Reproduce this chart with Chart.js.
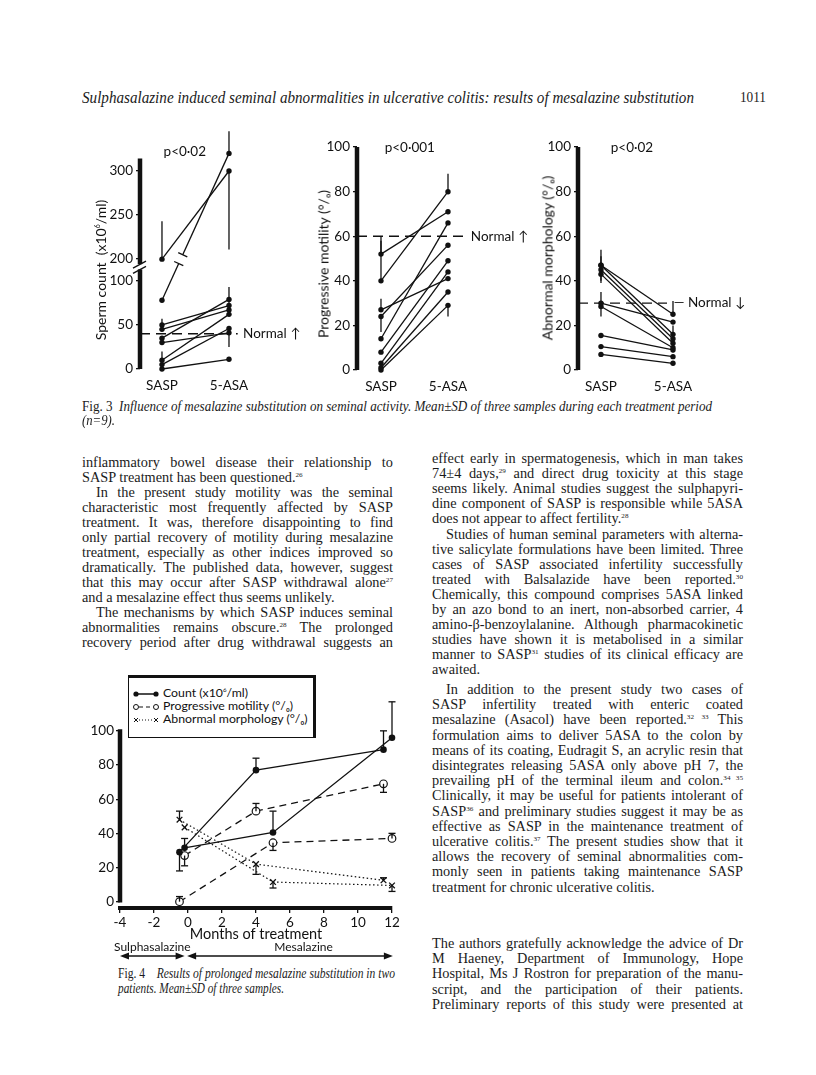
<!DOCTYPE html>
<html>
<head>
<meta charset="utf-8">
<script src="https://cdn.jsdelivr.net/npm/chart.js@4.4.1/dist/chart.umd.min.js"></script>
<style>
  body { margin: 0; background: #fff; width: 816px; height: 1075px; position: relative; overflow: hidden; color: #1b1b1b; }
  canvas { position: absolute; }
  .t { position: absolute; white-space: nowrap; font-family: 'Liberation Serif', serif; font-size: 14.3px; line-height: 15px; }
  .t span { display: inline-block; transform-origin: 0 50%; }
  sup { font-size: .5em; vertical-align: .75em; line-height: 0; }
  .yt { position: absolute; transform: translate(-50%, -50%) rotate(-90deg); font: 14px Lato, sans-serif; white-space: nowrap; color: #111; }
  #leg { position: absolute; left: 128px; top: 675px; width: 184px; height: 59px; border: 1.5px solid #111; border-top-width: 3px; border-right-width: 3px; font: 12.3px Lato, sans-serif; color: #111; background: #fff; }
  #leg div { position: absolute; left: 3px; height: 13px; line-height: 13px; white-space: nowrap; }
  #leg svg { vertical-align: middle; margin-right: 3px; }
</style>
</head>
<body>

<canvas id="c1"></canvas>
<canvas id="c2"></canvas>
<canvas id="c3"></canvas>
<canvas id="c4"></canvas>

<div class="yt" style="left:100px;top:270px">Sperm count &nbsp;(x10<sup>6</sup>/ml)</div>
<div class="yt" style="left:323px;top:264px">Progressive motility (°/ₒ)</div>
<div class="yt" style="left:547px;top:258px">Abnormal morphology (°/ₒ)</div>

<div id="leg">
  <div style="top:8px"><svg width="28" height="8"><line x1="4" y1="4" x2="24" y2="4" stroke="#111" stroke-width="1.5"/><circle cx="4" cy="4" r="2.6" fill="#111"/><circle cx="24" cy="4" r="2.6" fill="#111"/></svg>Count (x10<sup>6</sup>/ml)</div>
  <div style="top:21px"><svg width="28" height="8"><line x1="7" y1="4" x2="21" y2="4" stroke="#111" stroke-width="1.2" stroke-dasharray="4 3"/><circle cx="4" cy="4" r="2.5" fill="#fff" stroke="#111"/><circle cx="24" cy="4" r="2.5" fill="#fff" stroke="#111"/></svg>Progressive motility (°/ₒ)</div>
  <div style="top:34px"><svg width="28" height="8"><line x1="7" y1="4" x2="21" y2="4" stroke="#111" stroke-width="1.2" stroke-dasharray="1 2"/><path d="M2 2l4 4M6 2l-4 4M22 2l4 4M26 2l-4 4" stroke="#111" stroke-width="1"/></svg>Abnormal morphology (°/ₒ)</div>
</div>

<script>
// Fig 3: mean of each patient on SASP and after switching to 5-ASA (n=9)
const groups = ['SASP', '5-ASA'];

const countTicks = [0, 50, 100, 200, 250, 300];
const countSasp = [200, 78, 50, 45, 35, 30, 10, 5, 0];
const countAsa = [300, 320, 72, 67, 79, 41, 62, 46, 11];
const countSaspSd = [243, null, 57, null, 28, null, 20, null, null];
const countAsaSd = [211, 345, null, 93, null, null, null, 25, null];
const countNormal = 40;

const pctTicks = [0, 20, 40, 60, 80, 100];
const motSasp = [52, 40, 27, 24, 14, 8, 3, 1, 0];
const motAsa = [71, 80, 41, 56, 66, 49, 44, 35, 29];
const motSaspSd = [60, 58, 32, 17, null, null, null, null, null];
const motAsaSd = [null, 88, null, null, null, null, null, null, 24];
const motNormal = 60;

const morSasp = [47, 47, 45, 43, 30, 28.5, 15.5, 10.5, 7];
const morAsa = [25, 16, 14, 12, 21.5, 10, 9, 6, 3];
const morSaspSd = [54, 51, 40, 39, 35, 24, null, null, null];
const morAsaSd = [31, null, 20, 8, null, null, null, null, null];
const morNormal = 30;

// Fig 4: two patients followed for a year
const monthTicks = [-4, -2, 0, 2, 4, 6, 8, 10, 12];
const cntAx = [-0.5, 4, 11.5], cntA = [29, 77, 89], cntASd = [18, 84, 100];
const cntBx = [-0.2, 5, 12], cntB = [31.5, 40.5, 96], cntBSd = [37, 53, 117];
const motAx = [-0.2, 4, 11.5], motA = [27, 53, 69], motASd = [21, 57.5, 64];
const motBx = [-0.5, 5, 12], motB = [0, 34.5, 37], motBSd = [3, 30, 40];
const morAx = [-0.5, 4, 11.5], morA = [48, 22, 12.5], morASd = [53, 16, 14];
const morBx = [-0.2, 5, 12], morB = [43.5, 11.5, 9.5], morBSd = [null, 8, 6];

const ink = '#111';
Chart.defaults.font.family = 'Lato, sans-serif';
Chart.defaults.font.size = 13.5;
Chart.defaults.color = ink;

// error bars, thick axes, notes, breaks and arrows
const extras = {
  id: 'extras',
  afterDatasetsDraw(chart, args, o) {
    const ctx = chart.ctx, X = v => chart.scales.x.getPixelForValue(v), Y = v => chart.scales.y.getPixelForValue(v);
    ctx.save();
    ctx.strokeStyle = ink; ctx.fillStyle = ink;
    (o.bars || []).forEach(b => {
      ctx.lineWidth = 1.3;
      ctx.beginPath(); ctx.moveTo(X(b[0]), Y(b[1])); ctx.lineTo(X(b[0]), Y(b[2])); ctx.stroke();
      if (o.cap) { ctx.beginPath(); ctx.moveTo(X(b[0]) - o.cap, Y(b[2])); ctx.lineTo(X(b[0]) + o.cap, Y(b[2])); ctx.stroke(); }
    });
    (o.axes || []).forEach(a => {
      ctx.lineWidth = 4.5;
      ctx.beginPath(); ctx.moveTo(X(a[0]), Y(a[1])); ctx.lineTo(X(a[0]), Y(a[2])); ctx.stroke();
    });
    if (o.axisBreak) {
      const x = X(o.axisBreak[0]);
      const y1 = Y(o.axisBreak[1]), y2 = Y(o.axisBreak[2]);
      ctx.fillStyle = '#fff'; ctx.fillRect(x - 4, Math.min(y1, y2), 8, Math.abs(y1 - y2));
      ctx.lineWidth = 1.3;
      [y1, y2].forEach(y => { ctx.beginPath(); ctx.moveTo(x - 7, y + 4); ctx.lineTo(x + 6, y - 3); ctx.stroke(); });
      ctx.fillStyle = ink;
    }
    if (o.lineBreak) {
      const pts = chart.getDatasetMeta(o.lineBreak.i).data;
      const ax = pts[0].x, ay = pts[0].y, bx = pts[1].x, by = pts[1].y;
      const len = Math.hypot(bx - ax, by - ay), nx = -(by - ay) / len, ny = (bx - ax) / len;
      const p = t => [ax + (bx - ax) * t, ay + (by - ay) * t];
      const [t1, t2] = o.lineBreak.t;
      ctx.strokeStyle = '#fff'; ctx.lineWidth = 4;
      ctx.beginPath(); ctx.moveTo(...p(t1)); ctx.lineTo(...p(t2)); ctx.stroke();
      ctx.strokeStyle = ink; ctx.lineWidth = 1.3;
      [t1, t2].forEach(t => { const [px, py] = p(t); ctx.beginPath(); ctx.moveTo(px - nx * 5, py - ny * 5); ctx.lineTo(px + nx * 5, py + ny * 5); ctx.stroke(); });
    }
    (o.notes || []).forEach(n => {
      ctx.font = n.font || '13.5px Lato, sans-serif';
      ctx.textAlign = n.align || 'left'; ctx.textBaseline = 'middle';
      ctx.fillText(n.text, X(n.x), Y(n.y));
    });
    (o.arrows || []).forEach(a => {
      const y = chart.chartArea.bottom + a.dy, x1 = X(a.from), x2 = X(a.to);
      ctx.lineWidth = 1.4;
      ctx.beginPath(); ctx.moveTo(x1 + 4, y); ctx.lineTo(x2 - 4, y); ctx.stroke();
      ctx.beginPath(); ctx.moveTo(x1, y); ctx.lineTo(x1 + 9, y - 3.5); ctx.lineTo(x1 + 9, y + 3.5); ctx.fill();
      ctx.beginPath(); ctx.moveTo(x2, y); ctx.lineTo(x2 - 9, y - 3.5); ctx.lineTo(x2 - 9, y + 3.5); ctx.fill();
      ctx.font = '12px Lato, sans-serif'; ctx.textAlign = 'center'; ctx.textBaseline = 'middle';
      ctx.fillText(a.label, X(a.lx), y - 9);
    });
    ctx.restore();
  }
};

function place(el, l, t, w, h) {
  el.width = w; el.height = h;
  el.style.left = l + 'px'; el.style.top = t + 'px';
  el.style.width = w + 'px'; el.style.height = h + 'px';
}

function pairPanel(id, box, o) {
  const el = document.getElementById(id);
  place(el, box.l, box.t, box.w, box.h);
  const tf = o.tf || (v => v);
  const ds = o.sasp.map((v, i) => ({
    data: [{x: 0, y: tf(v)}, {x: 1, y: tf(o.asa[i])}],
    borderColor: ink, borderWidth: 1.3, pointRadius: 2.7, pointBackgroundColor: ink,
    pointBorderWidth: 0, clip: false
  }));
  ds.push({
    data: [{x: o.xMin, y: tf(o.normal)}, {x: o.normalEnd, y: tf(o.normal)}],
    borderColor: ink, borderWidth: 1.3, borderDash: [10, 6], pointRadius: 0, clip: false
  });
  const bars = [];
  o.sasp.forEach((v, i) => {
    if (o.saspSd[i] != null) bars.push([0, tf(v), tf(o.saspSd[i])]);
    if (o.asaSd[i] != null) bars.push([1, tf(o.asa[i]), tf(o.asaSd[i])]);
  });
  return new Chart(el, {
    type: 'line',
    data: {datasets: ds},
    options: {
      responsive: false, animation: false,
      layout: {padding: {top: box.pt, right: box.pr, left: 0, bottom: 0}},
      plugins: {
        legend: {display: false}, tooltip: {enabled: false},
        extras: {bars: bars, axes: [[o.xMin, 0, o.axisTop]], notes: o.notes, axisBreak: o.axisBreak, lineBreak: o.lineBreak}
      },
      scales: {
        x: {
          type: 'linear', min: o.xMin, max: o.xMax,
          afterBuildTicks: s => { s.ticks = [{value: 0}, {value: 1}]; },
          afterFit: s => { s.height = 28; },
          ticks: {callback: v => groups[v], padding: 1, maxRotation: 0},
          grid: {display: false}, border: {display: false}
        },
        y: {
          min: o.yMin, max: o.yMax,
          afterBuildTicks: s => { s.ticks = o.ticks.map(v => ({value: tf(v)})); },
          afterFit: s => { s.width = 55; },
          ticks: {callback: o.label || (v => v), padding: 3},
          grid: {drawOnChartArea: false, tickLength: 4, color: ink, lineWidth: 1.3},
          border: {display: false}
        }
      }
    },
    plugins: [extras]
  });
}

// broken sperm-count axis: 100 -> 200 squeezed into a short gap
const brk = 124.7;
const countF = v => v <= 100 ? v : v - 200 + brk;

pairPanel('c1', {l: 85, t: 120, w: 215, h: 277, pt: 6, pr: 30}, {
  sasp: countSasp, asa: countAsa, saspSd: countSaspSd, asaSd: countAsaSd,
  normal: countNormal, normalEnd: 1.13, tf: countF,
  ticks: countTicks, label: v => v > 100 ? Math.round(v + 200 - brk) : v,
  xMin: -0.328, xMax: 1.612, yMin: 0, yMax: 270, axisTop: 239,
  axisBreak: [-0.328, 113, 119], lineBreak: {i: 1, t: [0.25, 0.31]},
  notes: [{text: 'p<0·02', x: 0.34, y: 246.7, align: 'center'}, {text: 'Normal ↑', x: 1.21, y: countNormal}]
});

pairPanel('c2', {l: 302, t: 136, w: 225, h: 262, pt: 10, pr: 40}, {
  sasp: motSasp, asa: motAsa, saspSd: motSaspSd, asaSd: motAsaSd,
  normal: motNormal, normalEnd: 1.28, ticks: pctTicks,
  xMin: -0.358, xMax: 1.582, yMin: 0, yMax: 100, axisTop: 100,
  notes: [{text: 'p<0·001', x: 0.43, y: 99.6, align: 'center'}, {text: 'Normal ↑', x: 1.34, y: motNormal}]
});

pairPanel('c3', {l: 523, t: 136, w: 230, h: 262, pt: 10, pr: 45}, {
  sasp: morSasp, asa: morAsa, saspSd: morSaspSd, asaSd: morAsaSd,
  normal: morNormal, normalEnd: 0.917, ticks: pctTicks,
  xMin: -0.319, xMax: 1.486, yMin: 0, yMax: 100, axisTop: 100,
  notes: [{text: 'p<0·02', x: 0.43, y: 99.6, align: 'center'}, {text: '— Normal ↓', x: 1.01, y: morNormal}]
});

// Fig 4
function series(xs, ys, style) {
  return Object.assign({
    data: xs.map((x, i) => ({x: x, y: ys[i]})),
    borderColor: ink, borderWidth: 1.3, pointBorderColor: ink, clip: false
  }, style);
}
const solid = {pointRadius: 3.3, pointBackgroundColor: ink, pointBorderWidth: 0};
const dashed = {borderDash: [7, 5], pointRadius: 3.8, pointBackgroundColor: '#fff', pointBorderWidth: 1.2};
const dotted = {borderDash: [1.5, 2.5], borderWidth: 1.2, pointStyle: 'crossRot', pointRadius: 4, pointBorderWidth: 1.3};

const f4bars = [];
[[cntAx, cntA, cntASd], [cntBx, cntB, cntBSd], [motAx, motA, motASd], [motBx, motB, motBSd], [morAx, morA, morASd], [morBx, morB, morBSd]]
  .forEach(([xs, ys, sd]) => xs.forEach((x, i) => { if (sd[i] != null) f4bars.push([x, ys[i], sd[i]]); }));

const c4 = document.getElementById('c4');
place(c4, 60, 690, 347, 273);
new Chart(c4, {
  type: 'line',
  data: {
    datasets: [
      series(cntAx, cntA, solid), series(cntBx, cntB, solid),
      series(motAx, motA, dashed), series(motBx, motB, dashed),
      series(morAx, morA, dotted), series(morBx, morB, dotted)
    ]
  },
  options: {
    responsive: false, animation: false,
    layout: {padding: {top: 10, right: 15, left: 0, bottom: 0}},
    plugins: {
      legend: {display: false}, tooltip: {enabled: false},
      extras: {
        bars: f4bars, cap: 3.5, axes: [[-4, -0.5, 101]],
        arrows: [{from: -4, to: -0.2, lx: -2.1, label: 'Sulphasalazine', dy: 48},
                 {from: -0.05, to: 12.05, lx: 6.8, label: 'Mesalazine', dy: 48}]
      }
    },
    scales: {
      x: {
        type: 'linear', min: -4, max: 12,
        afterBuildTicks: s => { s.ticks = monthTicks.map(v => ({value: v})); },
        afterFit: s => { s.height = 55; },
        ticks: {padding: 2, maxRotation: 0},
        grid: {drawOnChartArea: false, tickLength: 5, color: ink, lineWidth: 1.3},
        border: {display: true, width: 4, color: ink},
        title: {display: true, text: 'Months of treatment', font: {size: 14.5}, padding: {top: 0, bottom: 20}}
      },
      y: {
        min: -3.7, max: 118,
        afterBuildTicks: s => { s.ticks = pctTicks.map(v => ({value: v})); },
        afterFit: s => { s.width = 60; },
        ticks: {padding: 2},
        grid: {drawOnChartArea: false, tickLength: 4, color: ink, lineWidth: 1.3},
        border: {display: false}
      }
    }
  },
  plugins: [extras]
});

// page text, one element per printed line
function addLine(x, y, w, html, mode, size) {
  const d = document.createElement('div');
  d.className = 't';
  d.style.left = x + 'px';
  d.style.top = (y - 8) + 'px';
  if (size) d.style.fontSize = size + 'px';
  const s = document.createElement('span');
  s.innerHTML = html;
  d.appendChild(s);
  document.body.appendChild(d);
  const ind = mode.includes('i') ? 14 : 0;
  s.style.marginLeft = ind + 'px';
  const tw = w - ind, nw = s.getBoundingClientRect().width;
  if (mode.includes('f') || nw > tw) s.style.transform = 'scaleX(' + (tw / nw) + ')';
  else if (mode.includes('j')) {
    const n = (s.textContent.match(/ /g) || []).length;
    if (n) s.style.wordSpacing = ((tw - nw) / n) + 'px';
  }
}

addLine(82, 98, 612, '<i>Sulphasalazine induced seminal abnormalities in ulcerative colitis: results of mesalazine substitution</i>', 'f', 16.5);
addLine(740, 98, 26, '1011', 'f', 15);
addLine(82, 407, 630, 'Fig. 3 &nbsp;<i>Influence of mesalazine substitution on seminal activity. Mean±SD of three samples during each treatment period</i>', 'f', 15);
addLine(82, 421, 33, '<i>(n=9).</i>', 'f', 15);
addLine(118, 973, 277, 'Fig. 4 &nbsp;&nbsp; <i>Results of prolonged mesalazine substitution in two</i>', 'f', 15.5);
addLine(118, 988, 166, '<i>patients. Mean±SD of three samples.</i>', 'f', 15.5);

const blocks = [
  {x: 82, y: 463, step: 15, lines: [
    ['j', 'inflammatory bowel disease their relationship to'],
    ['e', 'SASP treatment has been questioned.<sup>26</sup>'],
    ['ij', 'In the present study motility was the seminal'],
    ['j', 'characteristic most frequently affected by SASP'],
    ['j', 'treatment. It was, therefore disappointing to find'],
    ['j', 'only partial recovery of motility during mesalazine'],
    ['j', 'treatment, especially as other indices improved so'],
    ['j', 'dramatically. The published data, however, suggest'],
    ['j', 'that this may occur after SASP withdrawal alone<sup>27</sup>'],
    ['e', 'and a mesalazine effect thus seems unlikely.'],
    ['ij', 'The mechanisms by which SASP induces seminal'],
    ['j', 'abnormalities remains obscure.<sup>28</sup> The prolonged'],
    ['j', 'recovery period after drug withdrawal suggests an']
  ]},
  {x: 432, y: 459, step: 15.1, lines: [
    ['j', 'effect early in spermatogenesis, which in man takes'],
    ['j', '74±4 days,<sup>29</sup> and direct drug toxicity at this stage'],
    ['j', 'seems likely. Animal studies suggest the sulphapyri-'],
    ['j', 'dine component of SASP is responsible while 5ASA'],
    ['e', 'does not appear to affect fertility.<sup>28</sup>'],
    ['ij', 'Studies of human seminal parameters with alterna-'],
    ['j', 'tive salicylate formulations have been limited. Three'],
    ['j', 'cases of SASP associated infertility successfully'],
    ['j', 'treated with Balsalazide have been reported.<sup>30</sup>'],
    ['j', 'Chemically, this compound comprises 5ASA linked'],
    ['j', 'by an azo bond to an inert, non-absorbed carrier, 4'],
    ['j', 'amino-β-benzoylalanine. Although pharmacokinetic'],
    ['j', 'studies have shown it is metabolised in a similar'],
    ['j', 'manner to SASP<sup>31</sup> studies of its clinical efficacy are'],
    ['e', 'awaited.']
  ]},
  {x: 432, y: 690, step: 15.2, lines: [
    ['ij', 'In addition to the present study two cases of'],
    ['j', 'SASP infertility treated with enteric coated'],
    ['j', 'mesalazine (Asacol) have been reported.<sup>32 33</sup> This'],
    ['j', 'formulation aims to deliver 5ASA to the colon by'],
    ['j', 'means of its coating, Eudragit S, an acrylic resin that'],
    ['j', 'disintegrates releasing 5ASA only above pH 7, the'],
    ['j', 'prevailing pH of the terminal ileum and colon.<sup>34 35</sup>'],
    ['j', 'Clinically, it may be useful for patients intolerant of'],
    ['j', 'SASP<sup>36</sup> and preliminary studies suggest it may be as'],
    ['j', 'effective as SASP in the maintenance treatment of'],
    ['j', 'ulcerative colitis.<sup>37</sup> The present studies show that it'],
    ['j', 'allows the recovery of seminal abnormalities com-'],
    ['j', 'monly seen in patients taking maintenance SASP'],
    ['e', 'treatment for chronic ulcerative colitis.']
  ]},
  {x: 432, y: 944, step: 15.2, lines: [
    ['j', 'The authors gratefully acknowledge the advice of Dr'],
    ['j', 'M Haeney, Department of Immunology, Hope'],
    ['j', 'Hospital, Ms J Rostron for preparation of the manu-'],
    ['j', 'script, and the participation of their patients.'],
    ['j', 'Preliminary reports of this study were presented at']
  ]}
];
blocks.forEach(b => b.lines.forEach((l, i) => addLine(b.x, b.y + i * b.step, 311, l[1], l[0])));
</script>
</body>
</html>
